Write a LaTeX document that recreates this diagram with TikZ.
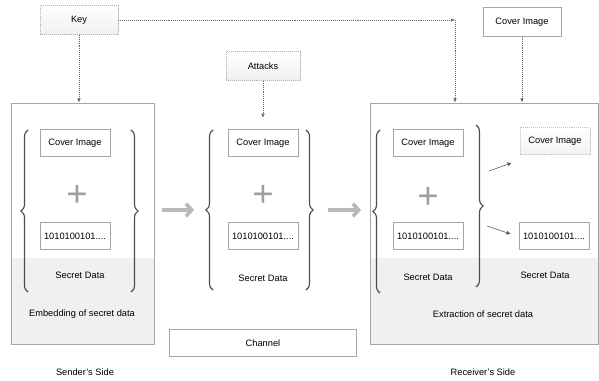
\documentclass[tikz,border=0pt]{standalone}
\usepackage{fontspec}
\setmainfont{Liberation Sans}
\usepackage{tikz}
\usetikzlibrary{calc, arrows.meta, positioning, shadows, decorations.pathreplacing}

\begin{document}
\begin{tikzpicture}[x=0.025cm, y=-0.025cm, >=latex, font=\fontsize{6.6}{7}\selectfont]
		\tikzstyle{box} = [draw=gray!70, fill=white, minimum width=1.75cm, minimum height=0.68cm, inner sep=1pt, drop shadow={opacity=0.25, shadow xshift=0.6pt, shadow yshift=-0.6pt}]
		\tikzstyle{topbox} = [box, minimum width=1.95cm, minimum height=0.72cm]
		\tikzstyle{dotbox} = [topbox, draw=gray!60, densely dotted, top color=white, bottom color=gray!12, drop shadow={opacity=0}]
		\tikzstyle{container} = [draw=gray!70, semithick, minimum height=6.025cm]
		\tikzstyle{invis} = [draw=none, inner sep=1pt]
		\tikzstyle{plus} = [draw=none, text=gray!75, font=\fontsize{26}{26}\selectfont]
		\tikzstyle{dotarrow} = [densely dotted, gray!80!black, -{Latex[length=3pt, width=2.5pt]}]
		\tikzstyle{bigarrow} = [draw=gray!55, line width=2.6pt, -{Straight Barb[length=4pt, width=9pt]}]
		\tikzstyle{smallarrow} = [gray!70!black, -{Latex[length=3pt, width=3pt]}]
		\tikzstyle{curly} = [draw=gray!60!black, thick, decorate, decoration={brace, amplitude=5pt, aspect=0.5}]
		
		\useasboundingbox (0,0) rectangle (599,381);
		
		% shaded lower parts
		\fill[gray!12] (11,258) rectangle (154,344);
		\fill[gray!12] (370,258) rectangle (598,344);
		
		\node[container, minimum width=3.575cm] 	at (82.5, 223.5)	(sender) 	{};
		\node[container, minimum width=5.7cm] 	at (484, 223.5)		(recv) 		{};
		
		\node[dotbox] 	at (79, 20)		(key) 	{Key};
		\node[dotbox, minimum width=1.85cm] 	at (263, 66)	(att) 	{Attacks};
		\node[topbox] 	at (522, 22)	(cov) 	{Cover Image};
		\node[box, minimum width=4.68cm] 	at (263, 343)	(chan) 	{Channel};
		
		% sender side
		\node[box] 		at (75, 143)	(scov) 	{Cover Image};
		\node[plus] 	at (77, 196)	(splus) {+};
		\node[box] 		at (75, 236)	(sdat) 	{1010100101....};
		\node[invis] 	at (80, 275)	(ssec) 	{Secret Data};
		\node[invis] 	at (82, 314)	(semb) 	{Embedding of secret data};
		\node[invis] 	at (85, 372)	(sside) {Sender's Side};
		
		% channel
		\node[box] 		at (263, 143)	(mcov) 	{Cover Image};
		\node[plus] 	at (263, 196)	(mplus) {+};
		\node[box] 		at (263, 236)	(mdat) 	{1010100101....};
		\node[invis] 	at (263, 278)	(msec) 	{Secret Data};
		
		% receiver side
		\node[box] 		at (428, 143)	(rcov) 	{Cover Image};
		\node[plus] 	at (428, 198)	(rplus) {+};
		\node[box] 		at (428, 236)	(rdat) 	{1010100101....};
		\node[invis] 	at (428, 277)	(rsec) 	{Secret Data};
		\node[box, draw=gray!50, densely dotted, top color=white, bottom color=gray!10, drop shadow={opacity=0}] 	at (555, 141)	(ocov) 	{Cover Image};
		\node[box] 		at (554, 236)	(odat) 	{1010100101....};
		\node[invis] 	at (545, 275)	(osec) 	{Secret Data};
		\node[invis] 	at (483, 314)	(rext) 	{Extraction of secret data};
		\node[invis] 	at (483, 372)	(rside) {Receiver's Side};
		
		% braces
		\draw[curly] (28, 292) -- (28, 130);
		\draw[curly] (131, 130) -- (131, 292);
		\draw[curly] (213, 290) -- (213, 130);
		\draw[curly] (306, 130) -- (306, 290);
		\draw[curly] (380, 293) -- (380, 130);
		\draw[curly] (476, 125) -- (476, 287);
		
		\coordinate (keyturn) at (455, 20);
		\coordinate (rbr1) at (489, 171);
		\coordinate (rbr2) at (487, 226);
		
		\path[->]
		(key) 		edge[dotarrow] 	(key |- sender.north)
		(key) 		edge[dotarrow, shorten <=0pt] 	(keyturn)
		(keyturn) 	edge[dotarrow] 	(keyturn |- recv.north)
		(cov) 		edge[dotarrow] 	(cov |- recv.north)
		(att) 		edge[dotarrow, shorten >=8pt] 	(att |- mcov.north);
		
		\draw[bigarrow] (162, 210) coordinate (a1) -- (194, 210) coordinate (a2);
		\draw[bigarrow] (328, 210) coordinate (b1) -- (361, 210) coordinate (b2);
		
		\draw[smallarrow] (rbr1) -- ($(ocov.south west)+(-8,8)$);
		\draw[smallarrow] (rbr2) -- ($(odat.west)+(-8,-2)$);
	\end{tikzpicture}
\end{document}
